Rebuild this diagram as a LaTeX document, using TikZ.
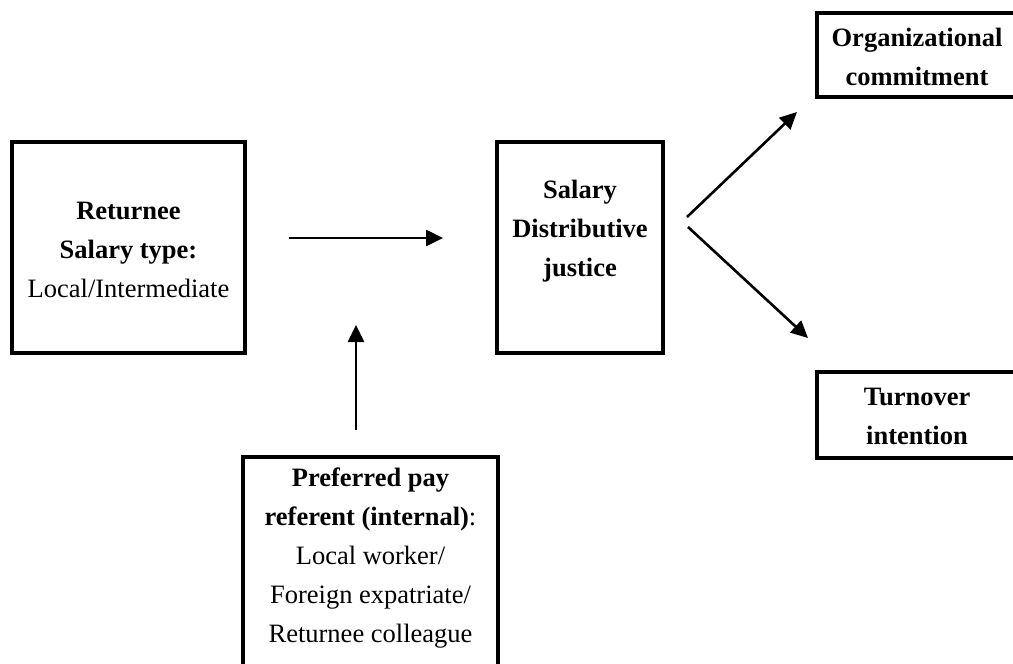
\documentclass[tikz,border=0pt]{standalone}
\usepackage{fontspec}
\setmainfont{Liberation Serif}
\usetikzlibrary{arrows.meta}
\begin{document}
\begin{tikzpicture}[x=0.5pt,y=-0.5pt,
  box/.style={draw, line width=1.6pt, inner sep=0pt},
  txt/.style={align=center, font=\fontsize{13.25}{19.5}\selectfont, inner sep=0pt},
  arr/.style={line width=1.3pt, -{Triangle[length=8.5pt,width=8pt]}}]
\useasboundingbox (0,0) rectangle (1013,664);
\clip (0,0) rectangle (1013,664);
% boxes
\node[box, minimum width=116.5pt, minimum height=105.5pt] (ret) at (128.5,247.5) {};
\node[box, minimum width=83pt, minimum height=105.5pt] (sdj) at (580,247.5) {};
\node[box, minimum width=106.5pt, minimum height=42pt] (oc) at (923.5,55) {};
\node[box, minimum width=106.5pt, minimum height=43pt] (to) at (923.5,415) {};
\node[box, minimum width=127.5pt, minimum height=131.5pt] (pr) at (370.5,588.5) {};
% texts
\node[txt] (rettxt) at (128.5,250) {\textbf{Returnee}\\\textbf{Salary type:}\\Local/Intermediate};
\node[txt] (sdjtxt) at (580,231) {\textbf{Salary}\\\textbf{Distributive}\\\textbf{justice}};
\node[txt] (octxt) at (917,57) {\textbf{Organizational}\\\textbf{commitment}};
\node[txt] (totxt) at (917,416) {\textbf{Turnover}\\\textbf{intention}};
\node[txt] (prtxt) at (370.5,558) {\textbf{Preferred pay}\\\textbf{referent (internal)}:\\Local worker/\\Foreign expatriate/\\Returnee colleague};
% arrow end points
\coordinate (h1) at (289,238);
\coordinate (h2) at (443,238);
\coordinate (v1) at (356,430);
\coordinate (v2) at (356,325);
\coordinate (da) at (687,217);
\coordinate (d1) at (797,112);
\coordinate (db) at (688,227);
\coordinate (d2) at (808,338);
\draw[arr] (h1) -- (h2);
\draw[arr] (v1) -- (v2);
\draw[arr] (da) -- (d1);
\draw[arr] (db) -- (d2);
\end{tikzpicture}
\end{document}
